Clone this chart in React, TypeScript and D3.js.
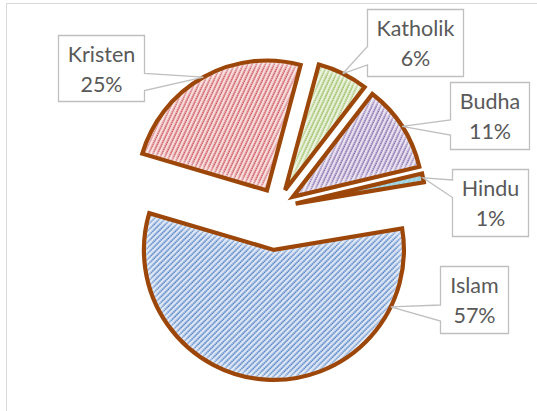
import React from "react";
import * as d3 from "d3";

// ---- data ----
const categories = ["Katholik", "Budha", "Hindu", "Islam", "Kristen"];
const values = [6.3, 10.8, 1.1, 57.2, 24.6];
const percentLabels = ["6%", "11%", "1%", "57%", "25%"];

// ---- layout / style ----
const W = 537;
const H = 411;
const CX = 276.5;
const CY = 207.5;
const R = 130;
const START = (15 * Math.PI) / 180;
const explodeBy: Record<string, number> = { Katholik: 19.5, Budha: 19.5, Hindu: 19.5, Islam: 42.5, Kristen: 19.5 };
const styles: Record<string, { bg: string; fg: string; rot: number }> = {
  Katholik: { bg: "#E9F1DC", fg: "#8FB84E", rot: 25 },
  Budha: { bg: "#E6E0EF", fg: "#7B5DA3", rot: 25 },
  Hindu: { bg: "#6FC0D6", fg: "#3FA6C2", rot: 25 },
  Islam: { bg: "#DCE6F5", fg: "#4476C0", rot: 45 },
  Kristen: { bg: "#F6DCDB", fg: "#C9454F", rot: 25 },
};
const callouts: Record<string, { x0: number; y0: number; x1: number; y1: number; side: "L" | "R"; b1: number; b2: number; ang: number | null }> = {
  Kristen: { x0: 58.5, y0: 35.5, x1: 144.5, y1: 101.5, side: "R", b1: 73.5, b2: 90.5, ang: null },
  Katholik: { x0: 367.5, y0: 9.5, x1: 463.5, y1: 76.5, side: "L", b1: 46.5, b2: 65, ang: null },
  Budha: { x0: 450.5, y0: 82.5, x1: 529.5, y1: 149.5, side: "L", b1: 120, b2: 135, ang: null },
  Hindu: { x0: 452.5, y0: 169.5, x1: 528.5, y1: 236.5, side: "L", b1: 180, b2: 197.5, ang: null },
  Islam: { x0: 440.5, y0: 266.5, x1: 508.5, y1: 333.5, side: "L", b1: 305, b2: 321, ang: 116 },
};
const STROKE = "#9C4709";
const FONT = "Lato, 'Open Sans', sans-serif";

export default function App() {
  const pie = d3
    .pie<number>()
    .sort(null)
    .startAngle(START)
    .endAngle(START + 2 * Math.PI);
  const arcs = pie(values);
  const arcGen = d3.arc<d3.PieArcDatum<number>>().innerRadius(0).outerRadius(R);

  const slices = arcs.map((a, i) => {
    const name = categories[i];
    const mid = (a.startAngle + a.endAngle) / 2;
    const d = explodeBy[name];
    const ox = CX + d * Math.sin(mid);
    const oy = CY - d * Math.cos(mid);
    const c = callouts[name];
    const ang = c.ang == null ? mid : (c.ang * Math.PI) / 180;
    const ax = ox + R * Math.sin(ang);
    const ay = oy - R * Math.cos(ang);
    return { a, name, ox, oy, ax, ay, path: arcGen(a) as string, i };
  });

  const calloutPath = (name: string, ax: number, ay: number) => {
    const c = callouts[name];
    if (c.side === "R") {
      return `M${c.x0},${c.y0}L${c.x1},${c.y0}L${c.x1},${c.b1}L${ax},${ay}L${c.x1},${c.b2}L${c.x1},${c.y1}L${c.x0},${c.y1}Z`;
    }
    return `M${c.x0},${c.y0}L${c.x1},${c.y0}L${c.x1},${c.y1}L${c.x0},${c.y1}L${c.x0},${c.b2}L${ax},${ay}L${c.x0},${c.b1}Z`;
  };

  return (
    <svg width={W} height={H} style={{ position: "absolute", left: 0, top: 0, background: "#fff" }}>
      <defs>
        {categories.map((n) => (
          <pattern
            key={n}
            id={`pat-${n}`}
            patternUnits="userSpaceOnUse"
            width={4}
            height={4}
            patternTransform={`rotate(${styles[n].rot})`}
          >
            <rect width={4} height={4} fill={styles[n].bg} />
            <line x1={1.2} y1={0} x2={1.2} y2={4} stroke={styles[n].fg} strokeWidth={1.5} strokeDasharray="1.6 0.4" />
          </pattern>
        ))}
        {slices.map((s) => (
          <clipPath key={s.name} id={`clip-${s.name}`}>
            <path d={s.path} />
          </clipPath>
        ))}
        <filter id="soft" x="-20%" y="-20%" width="140%" height="140%">
          <feGaussianBlur stdDeviation={2.5} />
        </filter>
      </defs>

      <rect x={6.5} y={3.5} width={560} height={440} fill="none" stroke="#D9D9D9" strokeWidth={1} />

      {slices.map((s) => (
        <g key={s.name} transform={`translate(${s.ox},${s.oy})`}>
          <path d={s.path} fill={`url(#pat-${s.name})`} />
          <g clipPath={`url(#clip-${s.name})`}>
            <path d={s.path} fill="none" stroke="#ffffff" strokeWidth={9} opacity={0.4} filter="url(#soft)" />
          </g>
          <path d={s.path} fill="none" stroke={STROKE} strokeWidth={4.2} strokeLinejoin="miter" />
        </g>
      ))}

      {slices.map((s) => {
        const c = callouts[s.name];
        const cx = (c.x0 + c.x1) / 2;
        return (
          <g key={`lbl-${s.name}`}>
            <path d={calloutPath(s.name, s.ax, s.ay)} fill="#ffffff" stroke="#BFBFBF" strokeWidth={1.3} />
            <text x={cx} y={c.y0 + 26.5} textAnchor="middle" fontFamily={FONT} fontSize={21.5} fill="#595959">
              {s.name}
            </text>
            <text x={cx} y={c.y0 + 56.3} textAnchor="middle" fontFamily={FONT} fontSize={21.5} fill="#595959">
              {percentLabels[s.i]}
            </text>
          </g>
        );
      })}
    </svg>
  );
}
